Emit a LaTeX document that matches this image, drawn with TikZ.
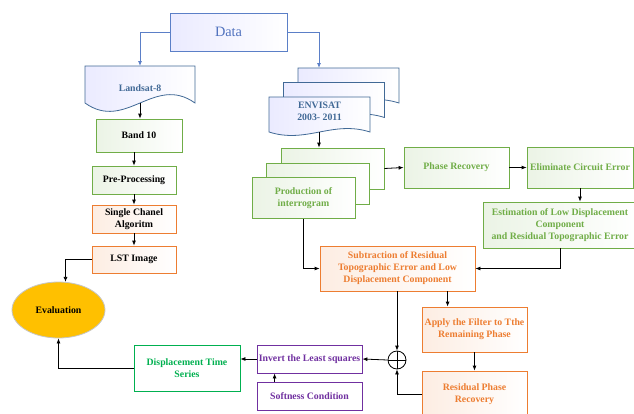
\documentclass[tikz,border=0pt]{standalone}
\usepackage{fontspec}
\setmainfont{Liberation Serif}
\usetikzlibrary{arrows.meta}
\usetikzlibrary{shapes.geometric}

\definecolor{dataline}{RGB}{91,127,199}
\definecolor{datatext}{RGB}{79,113,190}
\definecolor{docline}{RGB}{65,105,150}
\definecolor{grn}{RGB}{112,173,71}
\definecolor{orng}{RGB}{237,125,49}
\definecolor{purp}{RGB}{112,48,160}
\definecolor{dispgreen}{RGB}{0,176,80}
\definecolor{gold}{RGB}{255,192,0}

% sheet with a wavy lower edge: x, y, width, height, wave
\newcommand{\docsheet}[5]{%
  \draw[draw=docline, line width=0.8pt, left color=blue!8, right color=white]
    (#1,#2) -- ({#1+#3},#2) -- ({#1+#3},{#2+#4})
    .. controls ({#1+0.63*#3},{#2+#4-#5}) and ({#1+0.37*#3},{#2+#4+#5}) .. (#1,{#2+#4}) -- cycle;}

\begin{document}
\begin{tikzpicture}[x=1pt,y=-1pt,>={Latex[length=5pt,width=4pt]},
    box/.style={rectangle, draw, line width=0.8pt, align=center, inner sep=1pt,
      font=\bfseries\fontsize{9.8}{12}\selectfont},
    databox/.style={box, draw=dataline, left color=blue!8, right color=white, text=datatext,
      font=\fontsize{14.3}{16}\selectfont},
    doctext/.style={align=center, text=docline, font=\bfseries\fontsize{9.8}{12}\selectfont},
    greenbox/.style={box, draw=grn, left color=grn!14, right color=white, text=grn},
    greenlabel/.style={box, draw=grn, left color=grn!14, right color=white, text=black},
    orangebox/.style={box, draw=orng, left color=orng!14, right color=white, text=orng},
    orangelabel/.style={box, draw=orng, left color=orng!14, right color=white, text=black},
    purplebox/.style={box, draw=purp, fill=white, text=purp},
    dispbox/.style={box, draw=dispgreen, fill=white, text=dispgreen},
    evalnode/.style={ellipse, draw=gray!45, fill=gold, line width=0.8pt, inner sep=0pt,
      font=\bfseries\fontsize{9.8}{12}\selectfont},
    oplus/.style={circle, draw, line width=0.8pt, minimum size=18, inner sep=0pt,
      path picture={\draw[line width=0.8pt] (path picture bounding box.north) -- (path picture bounding box.south)
        (path picture bounding box.west) -- (path picture bounding box.east);}},
    arrow/.style={->, line width=0.8pt},
    bluearrow/.style={->, line width=0.8pt, draw=dataline, >={Latex[length=5pt,width=4pt,fill=dataline]}}]

    \useasboundingbox (0,0) rectangle (634,413);

    % data source
    \node[databox, minimum width=117, minimum height=38] (data) at (228.5,32) {Data};

    % landsat branch
    \docsheet{85}{66}{110}{37}{29}
    \node[doctext] (landsat) at (140,88) {Landsat-8};
    \coordinate (landsat top) at (140,66);
    \coordinate (landsat bottom) at (140,103);

    \node[greenlabel, minimum width=86, minimum height=33] (band) at (139,135.5) {Band 10};
    \node[greenlabel, minimum width=84, minimum height=28] (pre) at (134,180) {Pre-Processing};
    \node[orangelabel, minimum width=84, minimum height=28] (single) at (134,219) {Single Chanel\\Algoritm};
    \node[orangelabel, minimum width=84, minimum height=27] (lst) at (134,259.5) {LST Image};
    \node[evalnode, minimum width=93, minimum height=56] (eval) at (58.5,310) {Evaluation};

    % envisat branch (stack of sheets)
    \docsheet{298}{68}{101}{35}{12}
    \docsheet{283.5}{82.5}{101}{35}{12}
    \docsheet{269}{97}{101}{35}{12}
    \node[doctext] (envisat) at (319.5,111) {ENVISAT\\2003- 2011};
    \coordinate (envisat top) at (319,68);
    \coordinate (envisat bottom) at (319,132);

    % interferogram stack
    \node[greenbox, minimum width=103, minimum height=41] (prod3) at (332.5,168.5) {};
    \node[greenbox, minimum width=103, minimum height=41] (prod2) at (318,183.5) {};
    \node[greenbox, minimum width=103, minimum height=41] (prod) at (303.5,198) {Production of\\interrogram};

    \node[greenbox, minimum width=105, minimum height=41] (phase) at (456.5,167.5) {Phase Recovery};
    \node[greenbox, minimum width=106, minimum height=41] (elim) at (580,167.5) {Eliminate Circuit Error};
    \node[greenbox, minimum width=154, minimum height=46] (estim) at (560,225)
        {Estimation of Low Displacement\\Component\\and Residual Topographic Error};

    \node[orangebox, minimum width=155, minimum height=45] (subtr) at (397.5,268.5)
        {Subtraction of Residual\\Topographic Error and Low\\Displacement Component};
    \node[orangebox, minimum width=105, minimum height=45] (apply) at (474.5,329.5)
        {Apply the Filter to Tthe\\Remaining Phase};
    \node[orangebox, minimum width=105, minimum height=46] (resid) at (474.5,394)
        {Residual Phase\\Recovery};

    \node[oplus] (sum) at (397,360) {};
    \node[purplebox, minimum width=105, minimum height=28] (inv) at (309.5,359) {Invert the Least squares};
    \node[purplebox, minimum width=105, minimum height=28] (soft) at (309.5,396) {Softness Condition};
    \node[dispbox, minimum width=106, minimum height=46] (disp) at (187,368) {Displacement Time\\Series};

    % data arrows
    \draw[bluearrow] (data.west) -| (landsat top);
    \draw[bluearrow] (data.east) -| (envisat top);

    % landsat chain
    \draw[arrow] (landsat bottom) -- (landsat bottom |- band.north);
    \draw[arrow] (pre.north |- band.south) -- (pre.north);
    \draw[arrow] (pre.south) -- (single.north);
    \draw[arrow] (single.south) -- (lst.north);
    \draw[arrow] (lst.west) -| (eval.76);

    % envisat chain
    \draw[arrow] (envisat bottom) -- (envisat bottom |- prod3.north);
    \draw[arrow] (prod3.east) -- (phase.west);
    \draw[arrow] (phase.east) -- (elim.west);
    \draw[arrow] (elim.south) -- (elim.south |- estim.north);
    \draw[arrow] (estim.south) |- (subtr.east);
    \draw[arrow] (prod.south) |- (subtr.west);
    \draw[arrow] ([xshift=26pt]apply.north west |- subtr.south) -- ([xshift=26pt]apply.north west);
    \draw[arrow] (apply.south) -- (resid.north);
    \draw[arrow] (sum.north |- subtr.south) -- (sum.north);
    \draw[arrow] (resid.west) -| (sum.south);
    \draw[arrow] (sum.west) -- (inv.east);
    \draw[arrow] ([xshift=18pt]soft.north west) -- ([xshift=18pt]inv.south west);
    \draw[arrow] (inv.west) -- (inv.west -| disp.east);
    \draw[arrow] (disp.west) -| (eval.south);
\end{tikzpicture}
\end{document}
